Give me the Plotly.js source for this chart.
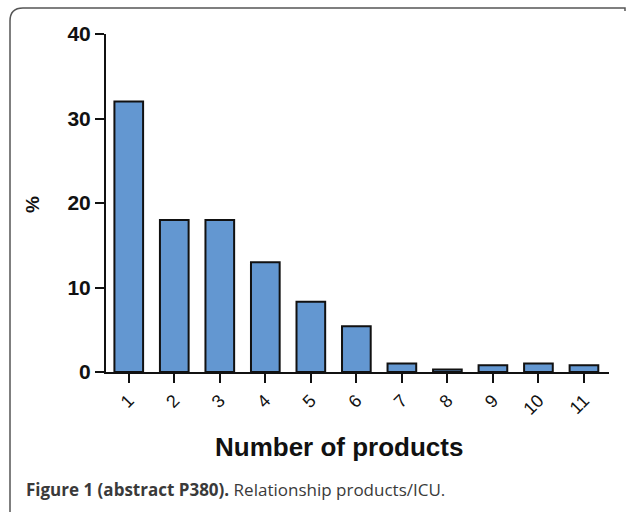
<!DOCTYPE html>
<html>
<head>
<meta charset="utf-8">
<script src="https://cdn.plot.ly/plotly-3.0.1.min.js"></script>
<style>
html,body{margin:0;padding:0;background:#fff;}
#chart{width:626px;height:512px;}
</style>
</head>
<body>
<div id="chart"></div>
<script>
// ---- data ----
const categories = [1, 2, 3, 4, 5, 6, 7, 8, 9, 10, 11];
const tickLabels = ["1", "2", "3", "4", "5", "6", "7", "8", "9", "10", "11"];
const percentValues = [32, 18, 18, 13, 8.3, 5.4, 1.0, 0.3, 0.8, 1.0, 0.8];
const yTicks = [0, 10, 20, 30, 40];

// ---- layout geometry (pixels) ----
const W = 626, H = 512;
const M = {l: 106, r: 17, t: 34, b: 140};
const pw = W - M.l - M.r, ph = H - M.t - M.b;
const px = x => (x - M.l) / pw;
const py = y => (H - M.b - y) / ph;

const framePath =
  'M ' + px(10) + ',' + py(520) +
  ' L ' + px(10) + ',' + py(21) +
  ' Q ' + px(10) + ',' + py(8) + ' ' + px(23) + ',' + py(8) +
  ' L ' + px(625) + ',' + py(8) +
  ' L ' + px(625) + ',' + py(11);

const trace = {
  type: 'bar',
  x: categories,
  y: percentValues,
  width: 0.63,
  marker: {color: '#6397d1', line: {color: '#111', width: 2}},
  hoverinfo: 'x+y'
};

const layout = {
  width: W, height: H,
  margin: M,
  paper_bgcolor: '#fff', plot_bgcolor: '#fff',
  showlegend: false,
  xaxis: {
    range: [0.5, 11.55],
    tickmode: 'array', tickvals: categories, ticktext: tickLabels,
    tickangle: -45,
    ticks: 'outside', ticklen: 9, tickwidth: 2, tickcolor: '#111',
    showline: true, linecolor: '#111', linewidth: 2,
    showgrid: false, zeroline: false,
    tickfont: {family: 'Liberation Sans, Arial, sans-serif', size: 18, color: '#111'}
  },
  yaxis: {
    range: [0, 40],
    tickmode: 'array', tickvals: yTicks,
    ticks: 'outside', ticklen: 9, tickwidth: 2, tickcolor: '#111',
    showline: true, linecolor: '#111', linewidth: 2,
    showgrid: false, zeroline: false,
    tickfont: {family: 'Liberation Sans, Arial, sans-serif', size: 21, color: '#111', weight: 'bold'}
  },
  shapes: [{
    type: 'path', xref: 'paper', yref: 'paper', path: framePath,
    line: {color: '#555', width: 1.5}, layer: 'above'
  }],
  annotations: [
    {
      xref: 'paper', yref: 'paper', x: px(339), y: py(447),
      xanchor: 'center', yanchor: 'middle', showarrow: false,
      text: 'Number of products',
      font: {family: 'Liberation Sans Narrow, Arial Narrow, sans-serif', size: 26, color: '#111', weight: 'bold'}
    },
    {
      xref: 'paper', yref: 'paper', x: px(32), y: py(205),
      xanchor: 'center', yanchor: 'middle', showarrow: false, textangle: -90,
      text: '%',
      font: {family: 'Liberation Sans, Arial, sans-serif', size: 19, color: '#111', weight: 'bold'}
    },
    {
      xref: 'paper', yref: 'paper', x: px(24), y: py(489),
      xanchor: 'left', yanchor: 'middle', showarrow: false, align: 'left',
      text: '<b>Figure 1 (abstract P380).</b> Relationship products/ICU.',
      font: {family: 'Open Sans, Noto Sans, sans-serif', size: 17, color: '#3a3a3a'}
    }
  ]
};

Plotly.newPlot('chart', [trace], layout, {displayModeBar: false, staticPlot: true});
</script>
</body>
</html>
